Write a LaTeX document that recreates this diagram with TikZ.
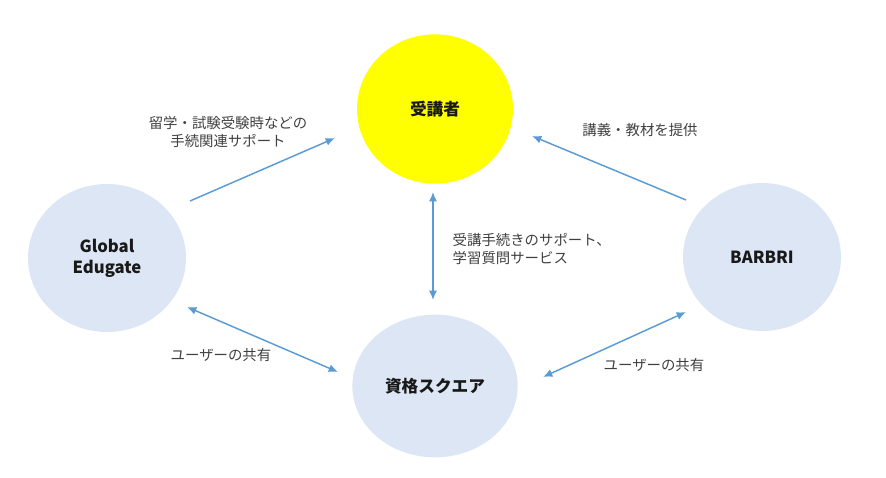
\documentclass[tikz,border=0pt]{standalone}
\usepackage{fontspec}
\setmainfont{Noto Sans CJK JP}
\usepackage{tikz}
\usetikzlibrary{arrows.meta,shapes.geometric}
\definecolor{circblue}{HTML}{DCE6F4}
\definecolor{studentyellow}{RGB}{255,255,0}
\definecolor{arrowblue}{HTML}{5B9BD5}
\definecolor{labelgray}{HTML}{404040}
\tikzset{
    party/.style={ellipse, fill=circblue, minimum width=118.5pt, minimum height=111pt, inner sep=0pt,
        align=center, font=\fontsize{12.5}{16}\selectfont\bfseries, text=black!90},
    link/.style={arrowblue, line width=1.1pt, -{Latex[length=7pt,width=6pt]}},
    biglink/.style={link, {Latex[length=7pt,width=6pt]}-{Latex[length=7pt,width=6pt]}},
    note/.style={text=labelgray, align=center, font=\fontsize{10.8}{14.2}\selectfont},
}

\begin{document}
\begin{tikzpicture}[x=0.75pt, y=-0.75pt]
    \useasboundingbox (0,0) rectangle (886,478);
    \node[party, fill=studentyellow, minimum width=117pt, minimum height=112pt] (stu) at (435,109) {受講者};
    \node[party] (ge) at (107,258) {Global\\Edugate};
    \node[party] (bar) at (762,257) {BARBRI};
    \node[party, minimum width=124pt, minimum height=107pt] (sq) at (435,386) {資格スクエア};
    \draw[link] ([shift={(83,-57)}]ge.center) -- ([shift={(-100,29)}]stu.center);
    \draw[link] ([shift={(-76,-57)}]bar.center) -- ([shift={(97,27)}]stu.center);
    \draw[biglink] ([shift={(-2,83)}]stu.center) -- ([shift={(-2,-86)}]sq.center);
    \draw[biglink] ([shift={(80,49)}]ge.center) -- ([shift={(-97,-14)}]sq.center);
    \draw[biglink] ([shift={(108,-9)}]sq.center) -- ([shift={(-76,55)}]bar.center);
    \node[note] (supportge) at (228,132) {留学・試験受験時などの\\手続関連サポート};
    \node[note] (lecture) at (640,130) {講義・教材を提供};
    \node[note, anchor=west, align=left] (supportsq) at (448,249) {受講手続きのサポート、\\学習質問サービス};
    \node[note] (shareleft) at (221,355) {ユーザーの共有};
    \node[note] (shareright) at (654,365) {ユーザーの共有};
\end{tikzpicture}
\end{document}
